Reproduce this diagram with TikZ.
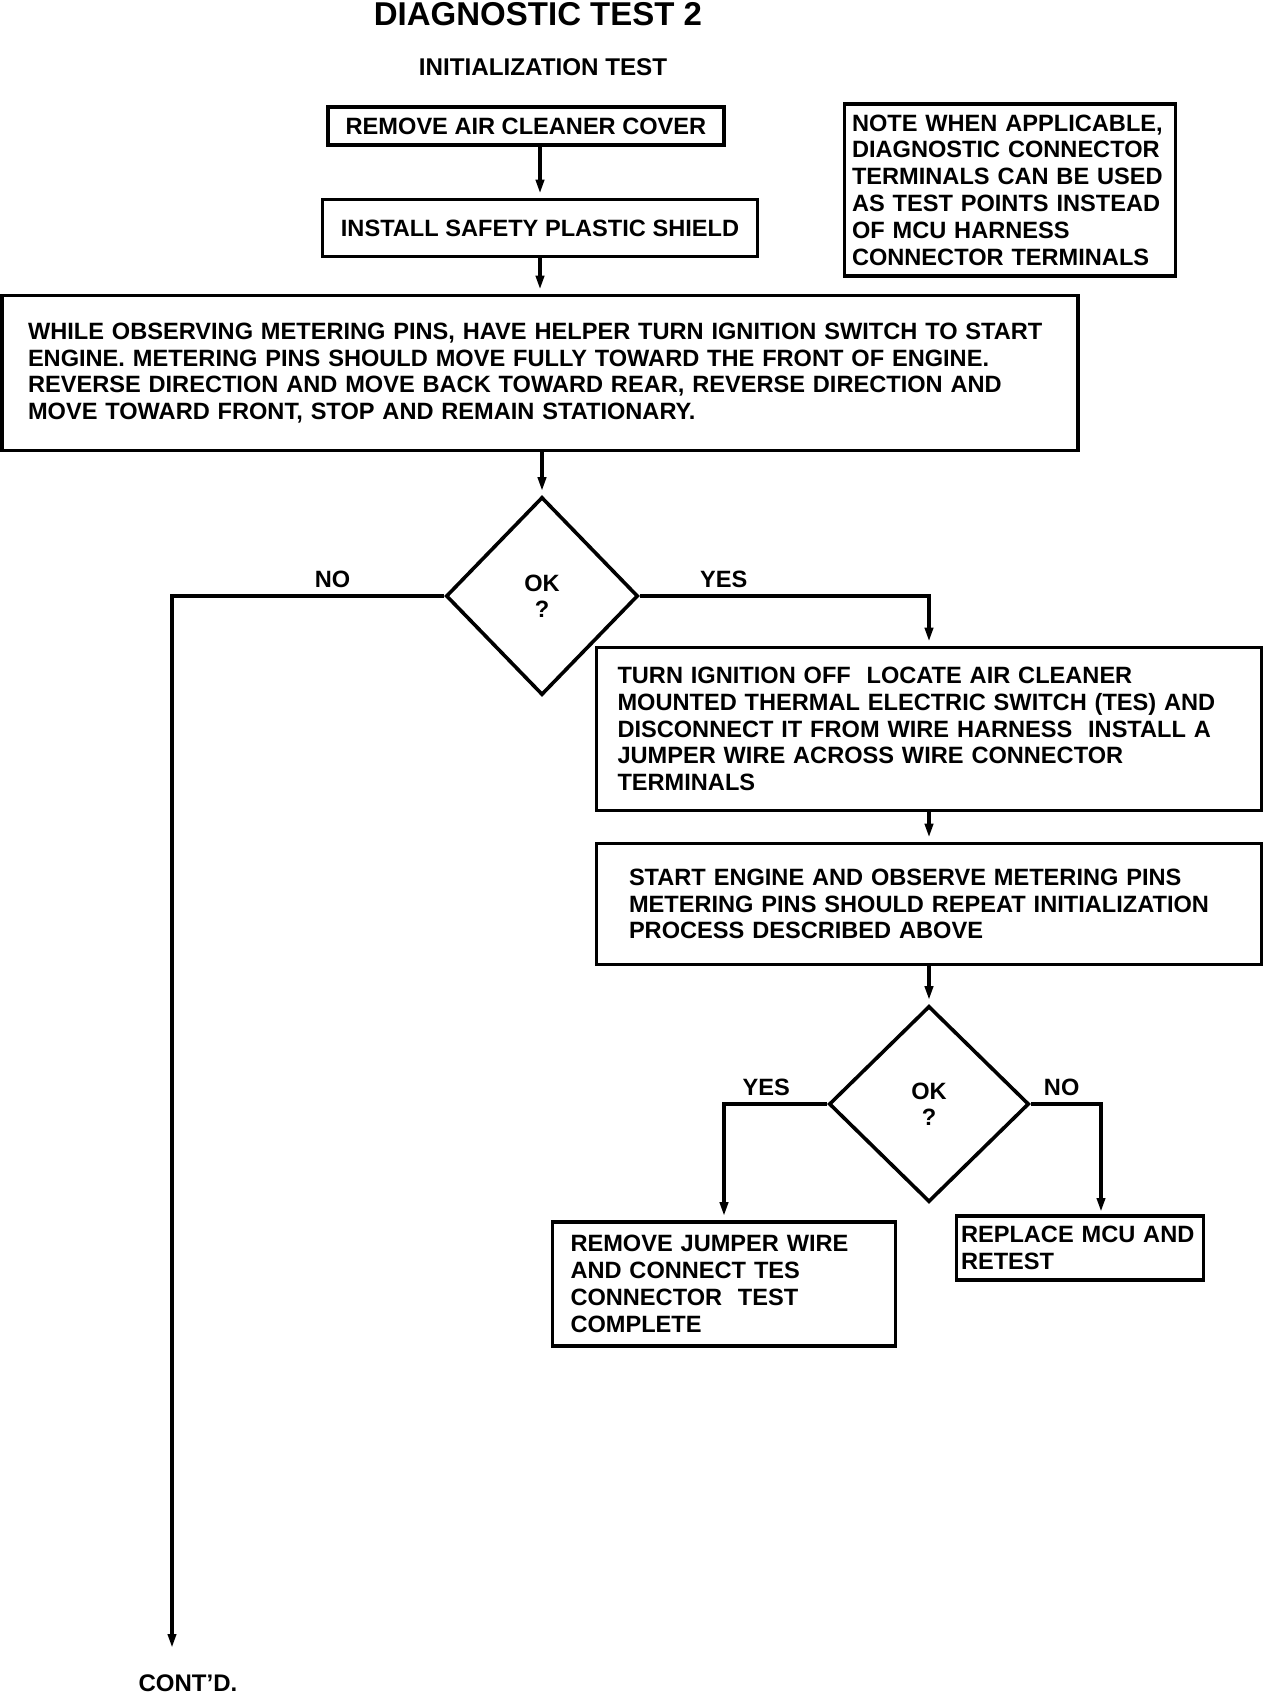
\documentclass[tikz,border=0pt]{standalone}
\usepackage{fontspec}
\setmainfont{Liberation Sans}
\usetikzlibrary{shapes.geometric,arrows.meta}
\newcommand{\flowtext}{\fontsize{11.8}{13.4}\selectfont\bfseries}

\begin{document}
\begin{tikzpicture}[x=0.5pt,y=-0.5pt,line width=1.8pt,shorten >= 2pt,
   >={Triangle[length=7pt,width=4pt]},
   stepbox/.style={draw,rectangle,inner xsep=0pt,inner ysep=0pt,align=left,font=\flowtext},
   test/.style={draw,diamond,inner sep=0pt,align=center,font=\flowtext},
   lbl/.style={above,inner sep=3pt,font=\flowtext}]
   \useasboundingbox (0,0) rectangle (1280,1694);
   \node (title) at (538,14) [font=\fontsize{16.5}{19}\selectfont\bfseries] {DIAGNOSTIC TEST 2};
   \node (subtitle) at (543,67) [font=\fontsize{12.1}{14}\selectfont\bfseries] {INITIALIZATION TEST};
   \node (step1) at (526,126) [stepbox,align=center,minimum width=198pt,minimum height=19pt] {REMOVE AIR CLEANER COVER};
   \node (step2) at (540,228) [stepbox,align=center,minimum width=217.5pt,minimum height=28.5pt] {INSTALL SAFETY PLASTIC SHIELD};
   \node (note) at (1010,190) [stepbox,text width=158pt,minimum width=165.5pt,minimum height=86pt]
      {NOTE WHEN APPLICABLE,\\ DIAGNOSTIC CONNECTOR\\ TERMINALS CAN BE USED\\ AS TEST POINTS INSTEAD\\ OF MCU HARNESS\\ CONNECTOR TERMINALS};
   \node (step3) at (540,373) [stepbox,text width=512pt,minimum width=538pt,minimum height=77.5pt]
      {WHILE OBSERVING METERING PINS, HAVE HELPER TURN IGNITION SWITCH TO START\\
       ENGINE. METERING PINS SHOULD MOVE FULLY TOWARD THE FRONT OF ENGINE.\\
       REVERSE DIRECTION AND MOVE BACK TOWARD REAR, REVERSE DIRECTION AND\\
       MOVE TOWARD FRONT, STOP AND REMAIN STATIONARY.};
   \node (test1) at (542,596) [test,minimum width=96pt,minimum height=99pt] {\\[-5pt]OK\\ ?};
   \node (step4) at (929,729) [stepbox,text width=311.5pt,minimum width=332.5pt,minimum height=81.5pt]
      {TURN IGNITION OFF\ \ LOCATE AIR CLEANER\\ MOUNTED THERMAL ELECTRIC SWITCH (TES) AND\\
       DISCONNECT IT FROM WIRE HARNESS\ \ INSTALL A\\ JUMPER WIRE ACROSS WIRE CONNECTOR\\ TERMINALS};
   \node (step5) at (929,904) [stepbox,text width=300pt,minimum width=332.5pt,minimum height=60.5pt]
      {START ENGINE AND OBSERVE METERING PINS\\ METERING PINS SHOULD REPEAT INITIALIZATION\\ PROCESS DESCRIBED ABOVE};
   \node (test2) at (929,1104) [test,minimum width=100pt,minimum height=98pt] {\\[-5pt]OK\\ ?};
   \node (step6) at (724,1284) [stepbox,text width=153.5pt,minimum width=171.5pt,minimum height=62pt]
      {REMOVE JUMPER WIRE\\ AND CONNECT TES\\ CONNECTOR\ \ TEST\\ COMPLETE};
   \node (step7) at (1080,1248) [stepbox,text width=119pt,minimum width=123.5pt,minimum height=32pt]
      {REPLACE MCU AND\\ RETEST};
   \node (contd) at (188,1683) [font=\fontsize{12}{14}\selectfont\bfseries] {CONT'D.};
   \coordinate (noend) at (172,1652);
   \coordinate (retest) at (1101,1216);
   \draw[->] (step1.south -| step2.north) -- (step2.north);
   \draw[->] (step2) -- (step3);
   \draw[->] (step3.south -| test1.north) -- (test1.north);
   \draw[->] (test1.west) -- node[lbl,pos=0.41] (no1) {NO} (test1.west -| noend) -- (noend);
   \draw[->] (test1.east) -- node[lbl,pos=0.29] (yes1) {YES} (test1.east -| step4.north) -- (step4.north);
   \draw[->] (step4) -- (step5);
   \draw[->] (step5) -- (test2);
   \draw[->] (test2.west) -- node[lbl,pos=0.59] (yes2) {YES} (test2.west -| step6.north) -- (step6.north);
   \draw[->] (test2.east) -- node[lbl,pos=0.44] (no2) {NO} (test2.east -| retest) -- (retest);
\end{tikzpicture}
\end{document}
